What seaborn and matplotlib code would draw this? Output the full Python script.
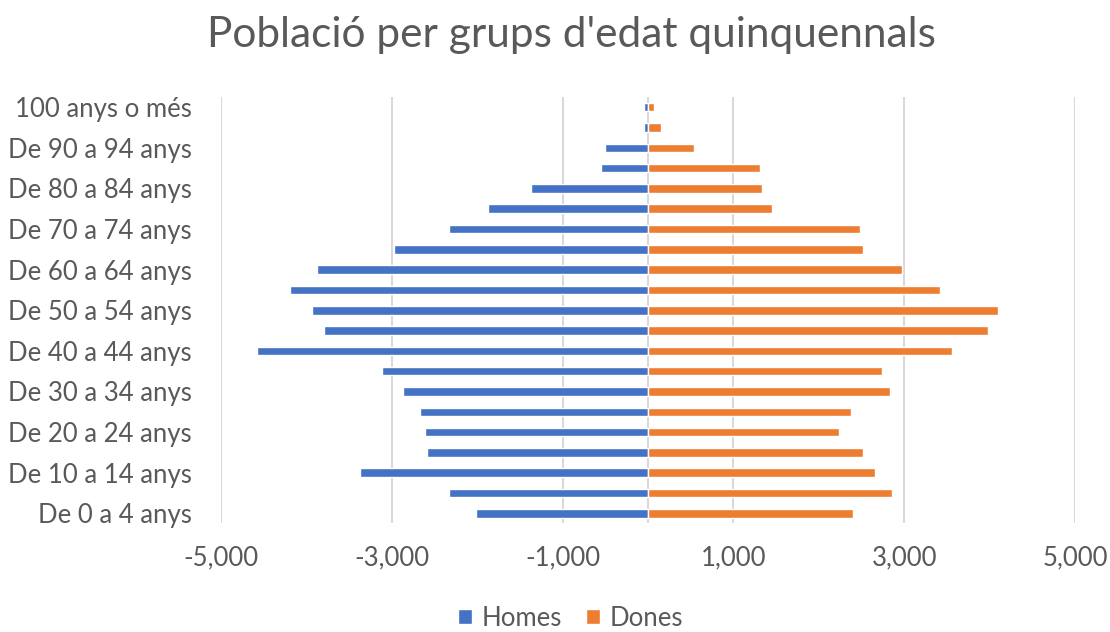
import matplotlib
matplotlib.use("Agg")
import matplotlib.pyplot as plt
import seaborn as sns
import pandas as pd
from matplotlib.ticker import FuncFormatter, FixedLocator

# Age groups, oldest first (top of the pyramid)
grups = [
    "100 anys o més", "De 95 a 99 anys", "De 90 a 94 anys", "De 85 a 89 anys",
    "De 80 a 84 anys", "De 75 a 79 anys", "De 70 a 74 anys", "De 65 a 69 anys",
    "De 60 a 64 anys", "De 55 a 59 anys", "De 50 a 54 anys", "De 45 a 49 anys",
    "De 40 a 44 anys", "De 35 a 39 anys", "De 30 a 34 anys", "De 25 a 29 anys",
    "De 20 a 24 anys", "De 15 a 19 anys", "De 10 a 14 anys", "De 5 a 9 anys",
    "De 0 a 4 anys",
]
# Men are plotted as negative values (left side)
homes = [-45, -50, -500, -552, -1370, -1874, -2327, -2973, -3877, -4187, -3928,
         -3791, -4577, -3114, -2864, -2664, -2609, -2582, -3369, -2327, -2019]
dones = [65, 150, 543, 1306, 1334, 1447, 2488, 2516, 2969, 3419, 4096,
         3982, 3560, 2743, 2829, 2379, 2238, 2520, 2661, 2856, 2406]

x_ticks = [-5000, -3000, -1000, 1000, 3000, 5000]

df = pd.DataFrame({"grup": grups, "Homes": homes, "Dones": dones})

sns.set_theme(style="white")
plt.rcParams["font.family"] = ["Lato", "DejaVu Sans"]

grey = "#595959"
blue = "#4472C4"
orange = "#ED7D31"
fs = 18.5

fig = plt.figure(figsize=(11.1, 6.32), dpi=100)
ax = fig.add_axes([0.199, 0.1717, 0.7695, 0.6748])

sns.barplot(data=df, x="Homes", y="grup", color=blue, width=0.42,
            saturation=1, label="Homes", ax=ax, zorder=3)
sns.barplot(data=df, x="Dones", y="grup", color=orange, width=0.42,
            saturation=1, label="Dones", ax=ax, zorder=3)

ax.set_xlim(-5000, 5000)
ax.xaxis.set_major_locator(FixedLocator(x_ticks))
ax.xaxis.set_major_formatter(FuncFormatter(lambda v, p: f"{v:,.0f}"))
ax.grid(axis="x", color="#d9d9d9", linewidth=1.5, zorder=0)
ax.axvline(0, color="#d9d9d9", linewidth=1.5, zorder=1)

# Label every other age group
ax.set_yticks(range(len(grups)))
ax.set_yticklabels([g if i % 2 == 0 else "" for i, g in enumerate(grups)])
ax.set_ylim(len(grups) - 0.5, -0.5)

ax.set_xlabel("")
ax.set_ylabel("")
for s in ax.spines.values():
    s.set_visible(False)
ax.tick_params(axis="both", length=0, colors=grey, labelsize=fs)
ax.tick_params(axis="x", pad=16)
ax.tick_params(axis="y", pad=21)

fig.suptitle("Població per grups d'edat quinquennals", x=0.515, y=0.975,
             fontsize=30.5, color=grey)

# Move the legend below the plot, centred on the figure
handles, labels = ax.get_legend_handles_labels()
if ax.get_legend() is not None:
    ax.get_legend().remove()
leg = fig.legend(handles, labels, loc="center", bbox_to_anchor=(0.514, 0.022),
                 ncol=2, frameon=False, fontsize=fs, handlelength=0.55,
                 handleheight=0.55, handletextpad=0.35, columnspacing=0.95,
                 borderpad=0.1)
for t in leg.get_texts():
    t.set_color(grey)

fig.savefig("out.png", dpi=100)
